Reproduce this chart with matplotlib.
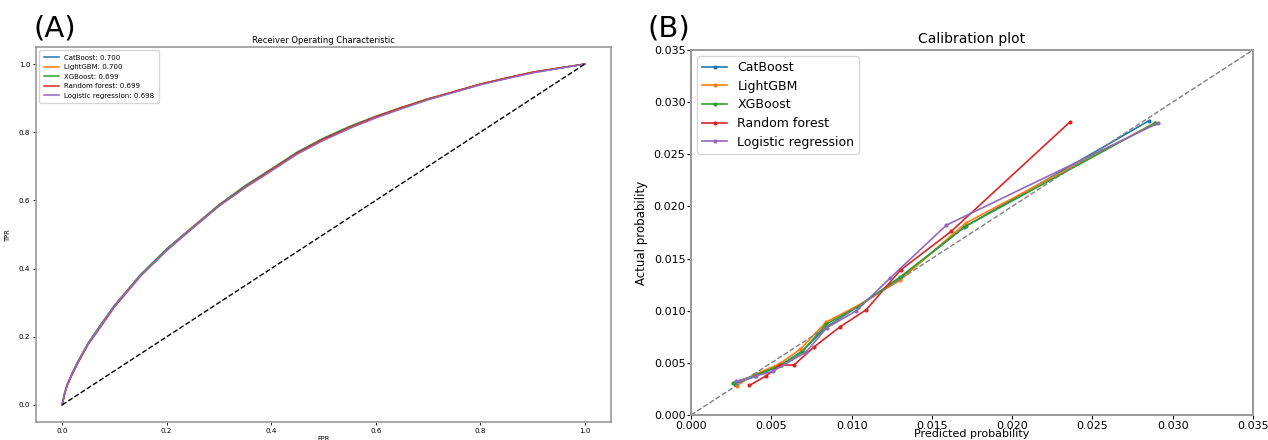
import matplotlib
matplotlib.use("Agg")
import matplotlib.pyplot as plt

# ---- ROC data ----
fpr = [0, 0.005, 0.01, 0.02, 0.03, 0.05, 0.075, 0.1, 0.15, 0.2, 0.25, 0.3, 0.35,
       0.4, 0.45, 0.5, 0.55, 0.6, 0.65, 0.7, 0.75, 0.8, 0.85, 0.9, 0.95, 1.0]
tpr_cat = [0, 0.036, 0.061, 0.096, 0.127, 0.182, 0.238, 0.292, 0.382, 0.458, 0.523, 0.587, 0.643,
           0.692, 0.742, 0.782, 0.817, 0.847, 0.873, 0.898, 0.919, 0.941, 0.959, 0.976, 0.988, 1.0]
tpr_lgb = [0, 0.035, 0.060, 0.095, 0.126, 0.181, 0.236, 0.291, 0.381, 0.456, 0.522, 0.586, 0.641,
           0.691, 0.741, 0.781, 0.816, 0.846, 0.873, 0.898, 0.919, 0.941, 0.959, 0.976, 0.988, 1.0]
tpr_xgb = [0, 0.035, 0.060, 0.095, 0.126, 0.182, 0.237, 0.291, 0.382, 0.457, 0.521, 0.586, 0.642,
           0.690, 0.741, 0.782, 0.816, 0.845, 0.872, 0.897, 0.918, 0.940, 0.958, 0.975, 0.988, 1.0]
tpr_rf = [0, 0.034, 0.058, 0.092, 0.122, 0.178, 0.232, 0.287, 0.378, 0.453, 0.519, 0.584, 0.639,
          0.689, 0.739, 0.780, 0.814, 0.845, 0.872, 0.897, 0.919, 0.941, 0.959, 0.976, 0.988, 1.0]
tpr_lr = [0, 0.035, 0.060, 0.094, 0.125, 0.180, 0.235, 0.290, 0.379, 0.454, 0.519, 0.583, 0.637,
          0.686, 0.736, 0.776, 0.811, 0.842, 0.869, 0.895, 0.917, 0.939, 0.957, 0.974, 0.987, 1.0]

roc_labels = ["CatBoost: 0.700", "LightGBM: 0.700", "XGBoost: 0.699",
              "Random forest: 0.699", "Logistic regression: 0.698"]

# ---- calibration data ----
cal_names = ["CatBoost", "LightGBM", "XGBoost", "Random forest", "Logistic regression"]
pred_cat = [0.00275, 0.0040, 0.0056, 0.0069, 0.0084, 0.0104, 0.0130, 0.0170, 0.0285]
act_cat = [0.0030, 0.0037, 0.0048, 0.0061, 0.0084, 0.0104, 0.0131, 0.0180, 0.0282]
pred_lgb = [0.00285, 0.00385, 0.0055, 0.0068, 0.0084, 0.0104, 0.0130, 0.0171, 0.0289]
act_lgb = [0.0028, 0.0038, 0.0049, 0.0063, 0.0089, 0.0105, 0.0129, 0.0184, 0.0280]
pred_xgb = [0.00264, 0.0040, 0.0056, 0.0069, 0.0084, 0.0104, 0.0130, 0.0171, 0.0289]
act_xgb = [0.0031, 0.0038, 0.0048, 0.0060, 0.0087, 0.0104, 0.0132, 0.0181, 0.0280]
pred_rf = [0.00364, 0.00467, 0.00554, 0.00641, 0.00765, 0.00927, 0.01092, 0.01305, 0.0162, 0.0236]
act_rf = [0.00283, 0.00375, 0.00479, 0.00479, 0.00651, 0.00844, 0.0101, 0.0139, 0.0176, 0.0281]
pred_lr = [0.00280, 0.00405, 0.0051, 0.00716, 0.00844, 0.0103, 0.01242, 0.0159, 0.0291]
act_lr = [0.00322, 0.00375, 0.0042, 0.00603, 0.00835, 0.0100, 0.01316, 0.0182, 0.0280]

colors = ["#1f77b4", "#ff7f0e", "#2ca02c", "#d62728", "#9467bd"]
W, H = 1268, 440

fig = plt.figure(figsize=(W / 100, H / 100), dpi=100)

# ---------------- (A) ROC ----------------
ax1 = fig.add_axes([36 / W, (H - 422) / H, 575 / W, 375 / H])
for tpr, lab, c in zip([tpr_cat, tpr_lgb, tpr_xgb, tpr_rf, tpr_lr], roc_labels, colors):
    ax1.plot(fpr, tpr, color=c, lw=1.1, label=lab)
ax1.plot([0, 1], [0, 1], "k--", lw=1)
ax1.set_title("Receiver Operating Characteristic", fontsize=6, pad=3)
ax1.set_xlabel("FPR", fontsize=4.8, labelpad=2)
ax1.set_ylabel("TPR", fontsize=4.8, labelpad=6)
ax1.tick_params(labelsize=5.2, length=2, width=0.6, pad=2)
ax1.legend(loc="upper left", fontsize=5, handlelength=2.2, borderpad=0.6, labelspacing=0.5)
for s in ax1.spines.values():
    s.set_color("#999999")
    s.set_linewidth(1.2)
fig.text(33 / W, 1 - 28 / H, "(A)", fontsize=21, va="center", ha="left")

# ---------------- (B) calibration ----------------
ax2 = fig.add_axes([691 / W, (H - 415) / H, 562 / W, 365 / H])
cal_x = [pred_cat, pred_lgb, pred_xgb, pred_rf, pred_lr]
cal_y = [act_cat, act_lgb, act_xgb, act_rf, act_lr]
for px, py, name, c in zip(cal_x, cal_y, cal_names, colors):
    ax2.plot(px, py, marker=".", markersize=4, lw=1.2, color=c, label=name)
ax2.plot([0, 0.035], [0, 0.035], "--", color="gray", lw=1)
ax2.set_xlim(0, 0.035)
ax2.set_ylim(0, 0.035)
ax2.set_xticks([0, 0.005, 0.01, 0.015, 0.02, 0.025, 0.03, 0.035])
ax2.set_yticks([0, 0.005, 0.01, 0.015, 0.02, 0.025, 0.03, 0.035])
ax2.xaxis.set_major_formatter(matplotlib.ticker.FormatStrFormatter("%.3f"))
ax2.yaxis.set_major_formatter(matplotlib.ticker.FormatStrFormatter("%.3f"))
ax2.set_title("Calibration plot", fontsize=10, pad=5)
ax2.set_xlabel("Predicted probability", fontsize=8, labelpad=-1)
ax2.set_ylabel("Actual probability", fontsize=8.5, labelpad=4)
ax2.tick_params(labelsize=8, length=3, pad=1)
ax2.legend(loc="upper left", fontsize=9, handlelength=2.0, labelspacing=0.45)
for s in ax2.spines.values():
    s.set_color("#999999")
    s.set_linewidth(1.4)
fig.text(647 / W, 1 - 28 / H, "(B)", fontsize=21, va="center", ha="left")

fig.savefig("out.png", dpi=100)
